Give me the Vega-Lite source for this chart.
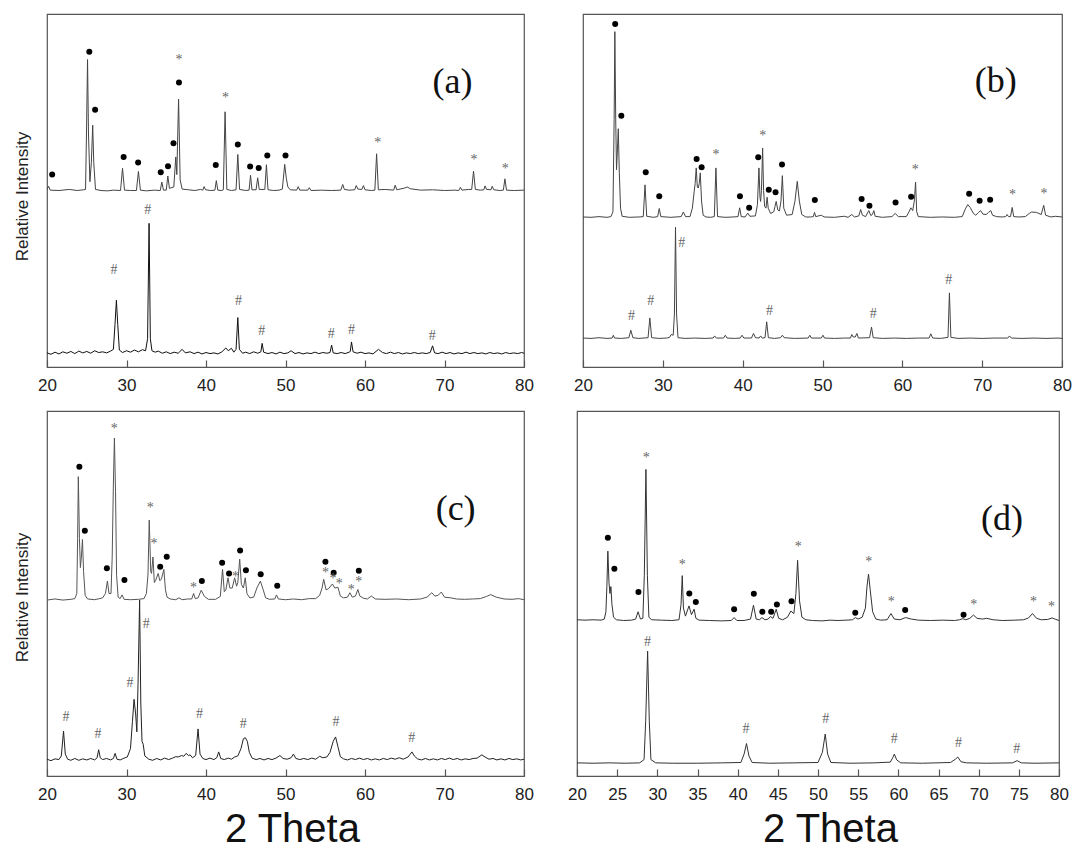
{
 "$schema": "https://vega.github.io/schema/vega-lite/v6.json",
 "background": "white",
 "padding": {"left": 12, "top": 13, "right": 5, "bottom": 0},
 "config": {
  "view": {"stroke": "#555", "strokeWidth": 1.2},
  "axis": {"grid": false, "domain": false, "labelFont": "Liberation Sans", "titleFont": "Liberation Sans", "titleFontWeight": "normal", "labelColor": "#222", "titleColor": "#111"}
 },
 "datasets": {
  "A": [
   {"s":"au","x":20.0,"y":50.2},{"s":"au","x":20.2,"y":51.2},{"s":"au","x":20.4,"y":50.1},{"s":"au","x":21.5,"y":50.0},{"s":"au","x":22.8,"y":50.3},{"s":"au","x":23.8,"y":50.0},{"s":"au","x":24.6,"y":50.2},{"s":"au","x":24.85,"y":50.3},{"s":"au","x":24.98,"y":68},{"s":"au","x":25.1,"y":87.1},{"s":"au","x":25.22,"y":66},{"s":"au","x":25.4,"y":52.5},{"s":"au","x":25.58,"y":58},{"s":"au","x":25.75,"y":68.5},{"s":"au","x":25.88,"y":58},{"s":"au","x":26.1,"y":50.3},{"s":"au","x":26.8,"y":50.0},{"s":"au","x":27.6,"y":49.9},{"s":"au","x":28.4,"y":50.1},{"s":"au","x":29.25,"y":50.0},{"s":"au","x":29.5,"y":56.3},{"s":"au","x":29.75,"y":50.1},{"s":"au","x":30.5,"y":50.0},{"s":"au","x":31.25,"y":50.0},{"s":"au","x":31.5,"y":55.4},{"s":"au","x":31.75,"y":50.1},{"s":"au","x":32.5,"y":49.9},{"s":"au","x":33.5,"y":50.1},{"s":"au","x":34.25,"y":50.0},{"s":"au","x":34.44,"y":52.4},{"s":"au","x":34.65,"y":50.1},{"s":"au","x":35.0,"y":50.1},{"s":"au","x":35.2,"y":54.1},{"s":"au","x":35.4,"y":50.6},{"s":"au","x":35.95,"y":51.0},{"s":"au","x":36.2,"y":59.5},{"s":"au","x":36.33,"y":54.5},{"s":"au","x":36.55,"y":75.9},{"s":"au","x":36.75,"y":53},{"s":"au","x":37.0,"y":50.4},{"s":"au","x":37.8,"y":50.2},{"s":"au","x":38.6,"y":50.0},{"s":"au","x":39.3,"y":50.3},{"s":"au","x":39.6,"y":50.1},{"s":"au","x":39.76,"y":51.1},{"s":"au","x":39.95,"y":50.2},{"s":"au","x":40.6,"y":50.0},{"s":"au","x":41.12,"y":50.1},{"s":"au","x":41.3,"y":52.8},{"s":"au","x":41.48,"y":50.1},{"s":"au","x":42.0,"y":50.0},{"s":"au","x":42.18,"y":50.2},{"s":"au","x":42.4,"y":72.3},{"s":"au","x":42.62,"y":50.3},{"s":"au","x":43.2,"y":50.0},{"s":"au","x":43.78,"y":50.2},{"s":"au","x":44.0,"y":60.2},{"s":"au","x":44.22,"y":50.3},{"s":"au","x":45.0,"y":50.0},{"s":"au","x":45.42,"y":50.1},{"s":"au","x":45.6,"y":54.3},{"s":"au","x":45.78,"y":50.2},{"s":"au","x":46.3,"y":50.2},{"s":"au","x":46.5,"y":53.6},{"s":"au","x":46.7,"y":50.3},{"s":"au","x":47.4,"y":50.3},{"s":"au","x":47.6,"y":57.3},{"s":"au","x":47.8,"y":50.2},{"s":"au","x":48.5,"y":50.0},{"s":"au","x":49.2,"y":50.1},{"s":"au","x":49.6,"y":50.4},{"s":"au","x":49.9,"y":57.4},{"s":"au","x":50.1,"y":53.5},{"s":"au","x":50.3,"y":51.0},{"s":"au","x":50.6,"y":50.2},{"s":"au","x":51.4,"y":50.1},{"s":"au","x":51.6,"y":51.1},{"s":"au","x":51.8,"y":50.1},{"s":"au","x":52.8,"y":50.1},{"s":"au","x":53.0,"y":50.8},{"s":"au","x":53.2,"y":50.0},{"s":"au","x":54.5,"y":50.1},{"s":"au","x":55.8,"y":50.0},{"s":"au","x":56.95,"y":50.1},{"s":"au","x":57.2,"y":51.7},{"s":"au","x":57.4,"y":50.3},{"s":"au","x":58.0,"y":50.1},{"s":"au","x":58.7,"y":50.2},{"s":"au","x":58.9,"y":51.4},{"s":"au","x":59.1,"y":50.4},{"s":"au","x":59.6,"y":50.3},{"s":"au","x":59.8,"y":51.4},{"s":"au","x":60.0,"y":50.2},{"s":"au","x":60.8,"y":50.0},{"s":"au","x":61.24,"y":50.1},{"s":"au","x":61.46,"y":60.4},{"s":"au","x":61.68,"y":50.2},{"s":"au","x":62.5,"y":50.3},{"s":"au","x":63.6,"y":50.1},{"s":"au","x":63.8,"y":51.5},{"s":"au","x":64.0,"y":50.2},{"s":"au","x":65.0,"y":50.7},{"s":"au","x":65.3,"y":51.0},{"s":"au","x":65.7,"y":50.5},{"s":"au","x":67.0,"y":50.1},{"s":"au","x":68.5,"y":50.2},{"s":"au","x":70.0,"y":50.0},{"s":"au","x":71.3,"y":50.1},{"s":"au","x":71.8,"y":50.0},{"s":"au","x":72.0,"y":50.9},{"s":"au","x":72.2,"y":50.1},{"s":"au","x":73.0,"y":50.3},{"s":"au","x":73.42,"y":50.3},{"s":"au","x":73.65,"y":55.5},{"s":"au","x":73.88,"y":50.3},{"s":"au","x":74.5,"y":50.1},{"s":"au","x":74.95,"y":50.2},{"s":"au","x":75.1,"y":51.3},{"s":"au","x":75.3,"y":50.3},{"s":"au","x":75.85,"y":50.2},{"s":"au","x":76.0,"y":51.2},{"s":"au","x":76.2,"y":50.2},{"s":"au","x":77.0,"y":50.0},{"s":"au","x":77.4,"y":50.1},{"s":"au","x":77.6,"y":53.3},{"s":"au","x":77.8,"y":50.1},{"s":"au","x":78.8,"y":50.0},{"s":"au","x":80.0,"y":50.1},
   {"s":"al","x":20.0,"y":4.0},{"s":"al","x":20.5,"y":3.6},{"s":"al","x":21.0,"y":4.2},{"s":"al","x":21.5,"y":3.7},{"s":"al","x":22.0,"y":4.3},{"s":"al","x":22.5,"y":3.9},{"s":"al","x":23.0,"y":4.4},{"s":"al","x":23.5,"y":3.8},{"s":"al","x":24.0,"y":4.5},{"s":"al","x":24.5,"y":4.0},{"s":"al","x":25.0,"y":4.4},{"s":"al","x":25.5,"y":3.9},{"s":"al","x":26.0,"y":4.6},{"s":"al","x":26.5,"y":4.1},{"s":"al","x":27.0,"y":4.3},{"s":"al","x":27.5,"y":4.0},{"s":"al","x":28.0,"y":4.5},{"s":"al","x":28.35,"y":5.0},{"s":"al","x":28.55,"y":12},{"s":"al","x":28.73,"y":18.9},{"s":"al","x":28.9,"y":12},{"s":"al","x":29.1,"y":4.8},{"s":"al","x":29.5,"y":4.1},{"s":"al","x":30.0,"y":4.6},{"s":"al","x":30.5,"y":4.2},{"s":"al","x":31.0,"y":4.8},{"s":"al","x":31.5,"y":4.3},{"s":"al","x":32.0,"y":4.9},{"s":"al","x":32.4,"y":4.6},{"s":"al","x":32.65,"y":8},{"s":"al","x":32.84,"y":40.7},{"s":"al","x":33.0,"y":8},{"s":"al","x":33.2,"y":4.6},{"s":"al","x":33.6,"y":4.2},{"s":"al","x":34.0,"y":4.5},{"s":"al","x":34.5,"y":3.9},{"s":"al","x":35.0,"y":4.3},{"s":"al","x":35.5,"y":3.8},{"s":"al","x":36.0,"y":4.2},{"s":"al","x":36.5,"y":3.9},{"s":"al","x":37.0,"y":5.0},{"s":"al","x":37.4,"y":4.0},{"s":"al","x":38.0,"y":4.3},{"s":"al","x":38.5,"y":3.8},{"s":"al","x":39.0,"y":4.2},{"s":"al","x":39.5,"y":3.7},{"s":"al","x":40.0,"y":4.1},{"s":"al","x":40.5,"y":3.8},{"s":"al","x":41.0,"y":4.0},{"s":"al","x":41.5,"y":3.7},{"s":"al","x":42.0,"y":4.3},{"s":"al","x":42.5,"y":5.4},{"s":"al","x":42.8,"y":4.6},{"s":"al","x":43.2,"y":5.3},{"s":"al","x":43.5,"y":4.2},{"s":"al","x":43.78,"y":5.0},{"s":"al","x":44.0,"y":14.0},{"s":"al","x":44.2,"y":5.0},{"s":"al","x":44.6,"y":3.9},{"s":"al","x":45.0,"y":4.2},{"s":"al","x":45.5,"y":3.8},{"s":"al","x":46.0,"y":4.3},{"s":"al","x":46.5,"y":3.9},{"s":"al","x":46.9,"y":4.3},{"s":"al","x":47.06,"y":6.7},{"s":"al","x":47.25,"y":4.2},{"s":"al","x":47.8,"y":3.8},{"s":"al","x":48.3,"y":4.1},{"s":"al","x":48.8,"y":3.7},{"s":"al","x":49.3,"y":4.2},{"s":"al","x":49.8,"y":3.8},{"s":"al","x":50.3,"y":4.0},{"s":"al","x":50.7,"y":4.6},{"s":"al","x":51.2,"y":3.8},{"s":"al","x":51.7,"y":4.1},{"s":"al","x":52.2,"y":3.7},{"s":"al","x":52.7,"y":4.0},{"s":"al","x":53.2,"y":3.8},{"s":"al","x":53.7,"y":4.2},{"s":"al","x":54.2,"y":3.8},{"s":"al","x":54.7,"y":4.1},{"s":"al","x":55.2,"y":3.9},{"s":"al","x":55.6,"y":4.1},{"s":"al","x":55.8,"y":6.2},{"s":"al","x":56.0,"y":4.0},{"s":"al","x":56.5,"y":3.8},{"s":"al","x":57.0,"y":4.1},{"s":"al","x":57.5,"y":3.8},{"s":"al","x":58.0,"y":4.2},{"s":"al","x":58.15,"y":4.4},{"s":"al","x":58.3,"y":7.1},{"s":"al","x":58.5,"y":4.3},{"s":"al","x":59.0,"y":3.9},{"s":"al","x":59.5,"y":4.2},{"s":"al","x":60.0,"y":3.8},{"s":"al","x":60.5,"y":4.0},{"s":"al","x":61.0,"y":3.7},{"s":"al","x":61.7,"y":5.0},{"s":"al","x":62.2,"y":4.1},{"s":"al","x":62.7,"y":3.8},{"s":"al","x":63.2,"y":4.2},{"s":"al","x":63.7,"y":3.8},{"s":"al","x":64.2,"y":4.1},{"s":"al","x":64.7,"y":3.7},{"s":"al","x":65.2,"y":4.0},{"s":"al","x":65.7,"y":3.8},{"s":"al","x":66.2,"y":4.1},{"s":"al","x":66.7,"y":3.8},{"s":"al","x":67.2,"y":4.0},{"s":"al","x":67.7,"y":3.8},{"s":"al","x":68.2,"y":4.1},{"s":"al","x":68.5,"y":6.0},{"s":"al","x":68.75,"y":4.0},{"s":"al","x":69.2,"y":3.8},{"s":"al","x":69.7,"y":4.2},{"s":"al","x":70.2,"y":3.8},{"s":"al","x":70.7,"y":4.1},{"s":"al","x":71.2,"y":3.7},{"s":"al","x":71.7,"y":4.0},{"s":"al","x":72.2,"y":3.8},{"s":"al","x":72.7,"y":4.2},{"s":"al","x":73.2,"y":3.8},{"s":"al","x":73.7,"y":4.1},{"s":"al","x":74.2,"y":3.8},{"s":"al","x":74.7,"y":4.0},{"s":"al","x":75.2,"y":3.7},{"s":"al","x":75.7,"y":4.1},{"s":"al","x":76.2,"y":3.8},{"s":"al","x":76.7,"y":4.0},{"s":"al","x":77.2,"y":3.7},{"s":"al","x":77.7,"y":4.1},{"s":"al","x":78.2,"y":3.8},{"s":"al","x":78.7,"y":4.0},{"s":"al","x":79.2,"y":3.8},{"s":"al","x":79.7,"y":4.1},{"s":"al","x":80.0,"y":3.9}
  ],
  "Am": [
   {"m":"o","x":20.65,"y":54.5},{"m":"o","x":25.32,"y":89.3},{"m":"o","x":26.05,"y":72.9},{"m":"o","x":29.64,"y":59.5},{"m":"o","x":31.46,"y":57.9},{"m":"o","x":34.31,"y":55.2},{"m":"o","x":35.22,"y":56.9},{"m":"o","x":35.91,"y":63.4},{"m":"o","x":36.6,"y":80.6},{"m":"*","x":36.6,"y":86.9},{"m":"o","x":41.23,"y":57.2},{"m":"*","x":42.44,"y":76.2},{"m":"o","x":44.0,"y":63.0},{"m":"o","x":45.55,"y":56.8},{"m":"o","x":46.63,"y":56.4},{"m":"o","x":47.71,"y":59.9},{"m":"o","x":50.0,"y":59.9},{"m":"*","x":61.59,"y":63.5},{"m":"*","x":73.7,"y":58.5},{"m":"*","x":77.63,"y":56.0},
   {"m":"#","x":28.43,"y":27.5},{"m":"#","x":32.67,"y":44.5},{"m":"#","x":44.08,"y":18.75},{"m":"#","x":47.02,"y":10.2},{"m":"#","x":55.75,"y":9.3},{"m":"#","x":58.3,"y":10.6},{"m":"#","x":68.47,"y":8.8}
  ],
  "B": [
   {"s":"bu","x":20.0,"y":42.5},{"s":"bu","x":21.0,"y":42.4},{"s":"bu","x":22.0,"y":42.6},{"s":"bu","x":23.0,"y":42.4},{"s":"bu","x":23.5,"y":42.6},{"s":"bu","x":23.75,"y":44.0},{"s":"bu","x":23.9,"y":70},{"s":"bu","x":23.99,"y":95.0},{"s":"bu","x":24.1,"y":70},{"s":"bu","x":24.2,"y":55.9},{"s":"bu","x":24.32,"y":62},{"s":"bu","x":24.42,"y":67.5},{"s":"bu","x":24.55,"y":55},{"s":"bu","x":24.7,"y":45},{"s":"bu","x":24.9,"y":42.7},{"s":"bu","x":25.8,"y":42.4},{"s":"bu","x":27.0,"y":42.5},{"s":"bu","x":27.55,"y":42.6},{"s":"bu","x":27.77,"y":51.6},{"s":"bu","x":27.98,"y":42.7},{"s":"bu","x":28.8,"y":42.4},{"s":"bu","x":29.35,"y":42.6},{"s":"bu","x":29.55,"y":44.9},{"s":"bu","x":29.75,"y":42.6},{"s":"bu","x":31.0,"y":42.4},{"s":"bu","x":32.3,"y":42.6},{"s":"bu","x":32.57,"y":43.9},{"s":"bu","x":32.85,"y":42.6},{"s":"bu","x":33.4,"y":42.6},{"s":"bu","x":33.7,"y":45},{"s":"bu","x":33.93,"y":49.8},{"s":"bu","x":34.05,"y":52},{"s":"bu","x":34.18,"y":56.4},{"s":"bu","x":34.32,"y":51},{"s":"bu","x":34.44,"y":50.7},{"s":"bu","x":34.56,"y":52},{"s":"bu","x":34.69,"y":55.0},{"s":"bu","x":34.85,"y":47},{"s":"bu","x":35.05,"y":43},{"s":"bu","x":35.4,"y":42.5},{"s":"bu","x":36.0,"y":42.4},{"s":"bu","x":36.45,"y":42.6},{"s":"bu","x":36.65,"y":56.4},{"s":"bu","x":36.85,"y":42.6},{"s":"bu","x":37.8,"y":42.4},{"s":"bu","x":38.8,"y":42.5},{"s":"bu","x":39.42,"y":42.6},{"s":"bu","x":39.62,"y":45.1},{"s":"bu","x":39.82,"y":42.6},{"s":"bu","x":40.3,"y":42.5},{"s":"bu","x":40.64,"y":43.6},{"s":"bu","x":40.9,"y":42.7},{"s":"bu","x":41.6,"y":42.8},{"s":"bu","x":41.85,"y":46},{"s":"bu","x":42.04,"y":56.4},{"s":"bu","x":42.17,"y":48},{"s":"bu","x":42.25,"y":46.9},{"s":"bu","x":42.35,"y":50},{"s":"bu","x":42.5,"y":62.0},{"s":"bu","x":42.62,"y":50},{"s":"bu","x":42.75,"y":45.5},{"s":"bu","x":42.92,"y":45},{"s":"bu","x":43.06,"y":48.1},{"s":"bu","x":43.2,"y":45},{"s":"bu","x":43.5,"y":43.5},{"s":"bu","x":43.9,"y":44},{"s":"bu","x":44.05,"y":45.5},{"s":"bu","x":44.2,"y":46.9},{"s":"bu","x":44.4,"y":44.5},{"s":"bu","x":44.6,"y":44.2},{"s":"bu","x":44.8,"y":47},{"s":"bu","x":44.97,"y":54.2},{"s":"bu","x":45.15,"y":45},{"s":"bu","x":45.5,"y":43.0},{"s":"bu","x":46.2,"y":43.2},{"s":"bu","x":46.55,"y":47},{"s":"bu","x":46.84,"y":52.6},{"s":"bu","x":47.1,"y":47},{"s":"bu","x":47.4,"y":43.2},{"s":"bu","x":47.9,"y":42.5},{"s":"bu","x":48.5,"y":42.5},{"s":"bu","x":48.85,"y":42.6},{"s":"bu","x":49.0,"y":43.8},{"s":"bu","x":49.15,"y":42.6},{"s":"bu","x":49.85,"y":43.0},{"s":"bu","x":50.2,"y":42.5},{"s":"bu","x":51.5,"y":42.4},{"s":"bu","x":52.74,"y":42.7},{"s":"bu","x":53.2,"y":42.4},{"s":"bu","x":53.67,"y":43.2},{"s":"bu","x":54.0,"y":42.5},{"s":"bu","x":54.55,"y":42.8},{"s":"bu","x":54.78,"y":44.6},{"s":"bu","x":55.0,"y":43.0},{"s":"bu","x":55.4,"y":42.6},{"s":"bu","x":55.8,"y":44.3},{"s":"bu","x":56.05,"y":42.9},{"s":"bu","x":56.25,"y":43.2},{"s":"bu","x":56.43,"y":44.3},{"s":"bu","x":56.6,"y":42.7},{"s":"bu","x":57.5,"y":42.4},{"s":"bu","x":58.7,"y":42.6},{"s":"bu","x":59.1,"y":43.5},{"s":"bu","x":59.5,"y":42.6},{"s":"bu","x":60.5,"y":42.6},{"s":"bu","x":60.85,"y":44},{"s":"bu","x":61.06,"y":45.1},{"s":"bu","x":61.3,"y":44.3},{"s":"bu","x":61.5,"y":47},{"s":"bu","x":61.66,"y":52.4},{"s":"bu","x":61.8,"y":44},{"s":"bu","x":62.0,"y":42.6},{"s":"bu","x":63.5,"y":42.4},{"s":"bu","x":65.0,"y":42.5},{"s":"bu","x":66.5,"y":42.4},{"s":"bu","x":67.5,"y":42.6},{"s":"bu","x":67.9,"y":44.8},{"s":"bu","x":68.2,"y":46.0},{"s":"bu","x":68.5,"y":45.2},{"s":"bu","x":68.9,"y":43.5},{"s":"bu","x":69.2,"y":43},{"s":"bu","x":69.55,"y":43.8},{"s":"bu","x":69.8,"y":44.3},{"s":"bu","x":70.1,"y":43.3},{"s":"bu","x":70.5,"y":43.2},{"s":"bu","x":70.8,"y":43.8},{"s":"bu","x":71.08,"y":44.3},{"s":"bu","x":71.3,"y":43.0},{"s":"bu","x":71.8,"y":42.6},{"s":"bu","x":72.5,"y":42.5},{"s":"bu","x":72.95,"y":42.6},{"s":"bu","x":73.12,"y":43.2},{"s":"bu","x":73.3,"y":42.6},{"s":"bu","x":73.55,"y":42.6},{"s":"bu","x":73.76,"y":45.2},{"s":"bu","x":73.95,"y":42.6},{"s":"bu","x":74.6,"y":42.5},{"s":"bu","x":75.4,"y":42.6},{"s":"bu","x":75.9,"y":43.5},{"s":"bu","x":76.18,"y":43.9},{"s":"bu","x":76.8,"y":43.8},{"s":"bu","x":77.4,"y":43.2},{"s":"bu","x":77.71,"y":45.8},{"s":"bu","x":77.95,"y":43.0},{"s":"bu","x":78.6,"y":42.5},{"s":"bu","x":79.15,"y":42.7},{"s":"bu","x":80.0,"y":42.5},
   {"s":"bl","x":20.0,"y":8.2},{"s":"bl","x":21.0,"y":8.1},{"s":"bl","x":22.0,"y":8.3},{"s":"bl","x":23.0,"y":8.1},{"s":"bl","x":23.65,"y":8.2},{"s":"bl","x":23.8,"y":9.0},{"s":"bl","x":23.95,"y":8.2},{"s":"bl","x":24.8,"y":8.1},{"s":"bl","x":25.75,"y":8.3},{"s":"bl","x":25.99,"y":10.4},{"s":"bl","x":26.25,"y":8.3},{"s":"bl","x":27.0,"y":8.1},{"s":"bl","x":28.15,"y":8.3},{"s":"bl","x":28.37,"y":13.9},{"s":"bl","x":28.6,"y":8.3},{"s":"bl","x":29.5,"y":8.1},{"s":"bl","x":30.5,"y":8.2},{"s":"bl","x":30.85,"y":8.4},{"s":"bl","x":31.04,"y":9.2},{"s":"bl","x":31.3,"y":9.0},{"s":"bl","x":31.45,"y":15},{"s":"bl","x":31.59,"y":39.6},{"s":"bl","x":31.72,"y":15},{"s":"bl","x":31.9,"y":8.3},{"s":"bl","x":32.8,"y":8.1},{"s":"bl","x":34.0,"y":8.2},{"s":"bl","x":35.3,"y":8.1},{"s":"bl","x":36.3,"y":8.2},{"s":"bl","x":36.48,"y":8.8},{"s":"bl","x":36.7,"y":8.2},{"s":"bl","x":37.6,"y":8.2},{"s":"bl","x":37.83,"y":9.0},{"s":"bl","x":38.05,"y":8.2},{"s":"bl","x":39.0,"y":8.1},{"s":"bl","x":39.7,"y":8.2},{"s":"bl","x":39.92,"y":9.0},{"s":"bl","x":40.15,"y":8.2},{"s":"bl","x":41.1,"y":8.2},{"s":"bl","x":41.36,"y":9.5},{"s":"bl","x":41.6,"y":8.3},{"s":"bl","x":42.05,"y":8.2},{"s":"bl","x":42.25,"y":8.8},{"s":"bl","x":42.45,"y":8.2},{"s":"bl","x":42.8,"y":8.3},{"s":"bl","x":43.01,"y":12.8},{"s":"bl","x":43.22,"y":8.3},{"s":"bl","x":44.0,"y":8.1},{"s":"bl","x":44.75,"y":8.3},{"s":"bl","x":44.97,"y":9.0},{"s":"bl","x":45.2,"y":8.3},{"s":"bl","x":46.5,"y":8.1},{"s":"bl","x":48.2,"y":8.2},{"s":"bl","x":48.41,"y":9.0},{"s":"bl","x":48.6,"y":8.2},{"s":"bl","x":49.85,"y":8.2},{"s":"bl","x":50.06,"y":9.0},{"s":"bl","x":50.25,"y":8.2},{"s":"bl","x":51.5,"y":8.1},{"s":"bl","x":52.8,"y":8.2},{"s":"bl","x":53.5,"y":8.2},{"s":"bl","x":53.67,"y":9.2},{"s":"bl","x":53.85,"y":8.5},{"s":"bl","x":54.1,"y":8.5},{"s":"bl","x":54.31,"y":9.5},{"s":"bl","x":54.5,"y":8.2},{"s":"bl","x":55.9,"y":8.3},{"s":"bl","x":56.14,"y":11.3},{"s":"bl","x":56.35,"y":8.3},{"s":"bl","x":57.5,"y":8.1},{"s":"bl","x":59.0,"y":8.2},{"s":"bl","x":60.5,"y":8.1},{"s":"bl","x":62.0,"y":8.2},{"s":"bl","x":63.35,"y":8.2},{"s":"bl","x":63.57,"y":9.4},{"s":"bl","x":63.8,"y":8.2},{"s":"bl","x":64.8,"y":8.1},{"s":"bl","x":65.72,"y":8.4},{"s":"bl","x":65.9,"y":21.0},{"s":"bl","x":66.08,"y":8.4},{"s":"bl","x":67.0,"y":8.1},{"s":"bl","x":68.5,"y":8.2},{"s":"bl","x":70.0,"y":8.1},{"s":"bl","x":71.5,"y":8.2},{"s":"bl","x":73.2,"y":8.2},{"s":"bl","x":73.42,"y":8.8},{"s":"bl","x":73.65,"y":8.2},{"s":"bl","x":75.0,"y":8.1},{"s":"bl","x":76.5,"y":8.2},{"s":"bl","x":78.0,"y":8.1},{"s":"bl","x":79.5,"y":8.2},{"s":"bl","x":80.0,"y":8.1}
  ],
  "Bm": [
   {"m":"o","x":24.03,"y":97.2},{"m":"o","x":24.8,"y":71.2},{"m":"o","x":27.86,"y":55.2},{"m":"o","x":29.55,"y":48.4},{"m":"o","x":34.23,"y":58.9},{"m":"o","x":34.86,"y":56.6},{"m":"*","x":36.65,"y":60.1},{"m":"o","x":39.66,"y":48.4},{"m":"o","x":40.81,"y":45.1},{"m":"o","x":41.95,"y":59.4},{"m":"*","x":42.5,"y":65.3},{"m":"o","x":43.27,"y":50.2},{"m":"o","x":44.12,"y":49.5},{"m":"o","x":44.93,"y":57.4},{"m":"o","x":49.04,"y":47.3},{"m":"o","x":54.9,"y":47.6},{"m":"o","x":55.88,"y":45.7},{"m":"o","x":59.15,"y":46.6},{"m":"o","x":61.1,"y":48.2},{"m":"*","x":61.61,"y":55.7},{"m":"o","x":68.37,"y":49.1},{"m":"o","x":69.68,"y":47.1},{"m":"o","x":71.0,"y":47.4},{"m":"*","x":73.8,"y":48.8},{"m":"*","x":77.75,"y":49.0},
   {"m":"#","x":26.07,"y":14.4},{"m":"#","x":28.49,"y":18.7},{"m":"#","x":32.36,"y":35.2},{"m":"#","x":43.36,"y":16.0},{"m":"#","x":56.35,"y":14.9},{"m":"#","x":65.82,"y":24.7}
  ],
  "C": [
   {"s":"cu","x":20.0,"y":48.2},{"s":"cu","x":21.0,"y":48.5},{"s":"cu","x":22.0,"y":48.2},{"s":"cu","x":23.0,"y":48.4},{"s":"cu","x":23.5,"y":48.6},{"s":"cu","x":23.75,"y":50},{"s":"cu","x":23.85,"y":65},{"s":"cu","x":23.94,"y":82.0},{"s":"cu","x":24.08,"y":65},{"s":"cu","x":24.2,"y":57.1},{"s":"cu","x":24.32,"y":60},{"s":"cu","x":24.46,"y":64.8},{"s":"cu","x":24.6,"y":56},{"s":"cu","x":24.8,"y":49.5},{"s":"cu","x":25.1,"y":48.5},{"s":"cu","x":26.0,"y":48.3},{"s":"cu","x":27.0,"y":48.8},{"s":"cu","x":27.35,"y":50},{"s":"cu","x":27.6,"y":53.4},{"s":"cu","x":27.8,"y":50},{"s":"cu","x":28.05,"y":50},{"s":"cu","x":28.2,"y":60},{"s":"cu","x":28.35,"y":80},{"s":"cu","x":28.48,"y":92.6},{"s":"cu","x":28.62,"y":78},{"s":"cu","x":28.75,"y":55},{"s":"cu","x":28.95,"y":49},{"s":"cu","x":29.2,"y":48.6},{"s":"cu","x":29.44,"y":49.6},{"s":"cu","x":29.7,"y":48.4},{"s":"cu","x":30.5,"y":48.3},{"s":"cu","x":31.5,"y":48.4},{"s":"cu","x":32.2,"y":48.6},{"s":"cu","x":32.5,"y":50},{"s":"cu","x":32.7,"y":55},{"s":"cu","x":32.86,"y":70.1},{"s":"cu","x":33.05,"y":56},{"s":"cu","x":33.15,"y":55.5},{"s":"cu","x":33.33,"y":60.0},{"s":"cu","x":33.5,"y":53},{"s":"cu","x":33.65,"y":53.5},{"s":"cu","x":33.98,"y":55.5},{"s":"cu","x":34.2,"y":53.5},{"s":"cu","x":34.4,"y":54},{"s":"cu","x":34.7,"y":56.6},{"s":"cu","x":34.9,"y":51},{"s":"cu","x":35.1,"y":49},{"s":"cu","x":35.5,"y":48.5},{"s":"cu","x":36.2,"y":48.3},{"s":"cu","x":36.6,"y":48.8},{"s":"cu","x":37.0,"y":48.3},{"s":"cu","x":37.7,"y":48.5},{"s":"cu","x":38.2,"y":48.5},{"s":"cu","x":38.44,"y":50.0},{"s":"cu","x":38.65,"y":48.6},{"s":"cu","x":39.0,"y":48.8},{"s":"cu","x":39.4,"y":50.9},{"s":"cu","x":39.8,"y":49.2},{"s":"cu","x":40.3,"y":48.4},{"s":"cu","x":41.2,"y":48.4},{"s":"cu","x":41.8,"y":49.2},{"s":"cu","x":42.08,"y":56.6},{"s":"cu","x":42.3,"y":50.5},{"s":"cu","x":42.5,"y":51},{"s":"cu","x":42.77,"y":54.3},{"s":"cu","x":43.0,"y":51.5},{"s":"cu","x":43.3,"y":51.5},{"s":"cu","x":43.6,"y":54.3},{"s":"cu","x":43.85,"y":52},{"s":"cu","x":44.0,"y":53},{"s":"cu","x":44.24,"y":59.4},{"s":"cu","x":44.45,"y":52.5},{"s":"cu","x":44.7,"y":51.5},{"s":"cu","x":44.94,"y":54.3},{"s":"cu","x":45.15,"y":50},{"s":"cu","x":45.5,"y":48.8},{"s":"cu","x":46.0,"y":49.0},{"s":"cu","x":46.4,"y":51.5},{"s":"cu","x":46.84,"y":53.4},{"s":"cu","x":47.2,"y":51},{"s":"cu","x":47.5,"y":48.8},{"s":"cu","x":48.0,"y":48.4},{"s":"cu","x":48.65,"y":48.5},{"s":"cu","x":48.87,"y":49.6},{"s":"cu","x":49.1,"y":48.5},{"s":"cu","x":50.0,"y":48.3},{"s":"cu","x":51.0,"y":48.5},{"s":"cu","x":52.0,"y":48.3},{"s":"cu","x":53.0,"y":48.6},{"s":"cu","x":53.8,"y":48.6},{"s":"cu","x":54.3,"y":49.5},{"s":"cu","x":54.6,"y":51.5},{"s":"cu","x":54.8,"y":53.9},{"s":"cu","x":55.1,"y":51},{"s":"cu","x":55.4,"y":51.3},{"s":"cu","x":55.9,"y":52.6},{"s":"cu","x":56.2,"y":51.5},{"s":"cu","x":56.6,"y":51.7},{"s":"cu","x":56.9,"y":49.3},{"s":"cu","x":57.3,"y":48.8},{"s":"cu","x":57.8,"y":49.0},{"s":"cu","x":58.1,"y":50.2},{"s":"cu","x":58.4,"y":49.0},{"s":"cu","x":58.8,"y":49.3},{"s":"cu","x":59.1,"y":51.1},{"s":"cu","x":59.35,"y":49.3},{"s":"cu","x":59.8,"y":48.7},{"s":"cu","x":60.3,"y":48.5},{"s":"cu","x":60.8,"y":49.3},{"s":"cu","x":61.3,"y":48.5},{"s":"cu","x":62.5,"y":48.4},{"s":"cu","x":64.0,"y":48.5},{"s":"cu","x":65.5,"y":48.3},{"s":"cu","x":67.0,"y":48.5},{"s":"cu","x":67.8,"y":49.0},{"s":"cu","x":68.4,"y":50.2},{"s":"cu","x":68.8,"y":49.3},{"s":"cu","x":69.2,"y":49.5},{"s":"cu","x":69.6,"y":50.4},{"s":"cu","x":70.0,"y":49},{"s":"cu","x":70.8,"y":48.8},{"s":"cu","x":71.5,"y":48.5},{"s":"cu","x":72.5,"y":48.4},{"s":"cu","x":73.5,"y":48.5},{"s":"cu","x":74.5,"y":48.6},{"s":"cu","x":75.3,"y":49.2},{"s":"cu","x":75.8,"y":49.7},{"s":"cu","x":76.5,"y":49.0},{"s":"cu","x":77.5,"y":48.5},{"s":"cu","x":78.5,"y":48.4},{"s":"cu","x":79.3,"y":48.6},{"s":"cu","x":80.0,"y":48.3},
   {"s":"cl","x":20.0,"y":4.6},{"s":"cl","x":20.5,"y":4.2},{"s":"cl","x":21.0,"y":4.7},{"s":"cl","x":21.5,"y":4.5},{"s":"cl","x":21.8,"y":5.5},{"s":"cl","x":22.08,"y":12.3},{"s":"cl","x":22.3,"y":6},{"s":"cl","x":22.6,"y":4.6},{"s":"cl","x":23.0,"y":4.3},{"s":"cl","x":23.5,"y":4.8},{"s":"cl","x":24.0,"y":4.3},{"s":"cl","x":24.5,"y":4.7},{"s":"cl","x":25.0,"y":4.4},{"s":"cl","x":25.5,"y":4.8},{"s":"cl","x":26.0,"y":4.4},{"s":"cl","x":26.3,"y":5.0},{"s":"cl","x":26.5,"y":7.2},{"s":"cl","x":26.7,"y":5.0},{"s":"cl","x":27.0,"y":4.5},{"s":"cl","x":27.5,"y":4.8},{"s":"cl","x":28.0,"y":4.4},{"s":"cl","x":28.35,"y":4.8},{"s":"cl","x":28.57,"y":6.2},{"s":"cl","x":28.8,"y":4.6},{"s":"cl","x":29.2,"y":4.4},{"s":"cl","x":29.7,"y":4.9},{"s":"cl","x":30.1,"y":5.2},{"s":"cl","x":30.5,"y":7.5},{"s":"cl","x":30.75,"y":15},{"s":"cl","x":30.95,"y":21.0},{"s":"cl","x":31.15,"y":17},{"s":"cl","x":31.3,"y":12.1},{"s":"cl","x":31.45,"y":25},{"s":"cl","x":31.65,"y":48.2},{"s":"cl","x":31.8,"y":20},{"s":"cl","x":31.95,"y":9.5},{"s":"cl","x":32.1,"y":8.7},{"s":"cl","x":32.3,"y":5.5},{"s":"cl","x":32.8,"y":4.6},{"s":"cl","x":33.3,"y":4.3},{"s":"cl","x":33.8,"y":4.8},{"s":"cl","x":34.3,"y":4.4},{"s":"cl","x":34.8,"y":4.9},{"s":"cl","x":35.3,"y":4.5},{"s":"cl","x":35.8,"y":4.9},{"s":"cl","x":36.2,"y":5.3},{"s":"cl","x":36.5,"y":5.2},{"s":"cl","x":36.9,"y":5.6},{"s":"cl","x":37.2,"y":5.4},{"s":"cl","x":37.5,"y":6.2},{"s":"cl","x":37.8,"y":5.6},{"s":"cl","x":38.0,"y":5.8},{"s":"cl","x":38.3,"y":5.0},{"s":"cl","x":38.7,"y":5.6},{"s":"cl","x":39.0,"y":12.9},{"s":"cl","x":39.25,"y":6},{"s":"cl","x":39.6,"y":4.8},{"s":"cl","x":40.0,"y":4.5},{"s":"cl","x":40.5,"y":4.9},{"s":"cl","x":41.0,"y":4.5},{"s":"cl","x":41.35,"y":5.0},{"s":"cl","x":41.6,"y":6.6},{"s":"cl","x":41.85,"y":4.8},{"s":"cl","x":42.3,"y":4.5},{"s":"cl","x":42.8,"y":4.9},{"s":"cl","x":43.2,"y":4.6},{"s":"cl","x":43.6,"y":5.2},{"s":"cl","x":44.0,"y":5.5},{"s":"cl","x":44.4,"y":7.5},{"s":"cl","x":44.7,"y":10.2},{"s":"cl","x":44.94,"y":10.5},{"s":"cl","x":45.2,"y":9.5},{"s":"cl","x":45.45,"y":6.5},{"s":"cl","x":45.8,"y":4.9},{"s":"cl","x":46.3,"y":4.5},{"s":"cl","x":46.8,"y":4.8},{"s":"cl","x":47.3,"y":4.4},{"s":"cl","x":47.8,"y":4.8},{"s":"cl","x":48.3,"y":4.5},{"s":"cl","x":48.8,"y":4.9},{"s":"cl","x":49.3,"y":5.6},{"s":"cl","x":49.7,"y":4.8},{"s":"cl","x":50.2,"y":4.6},{"s":"cl","x":50.7,"y":5.0},{"s":"cl","x":51.0,"y":6.0},{"s":"cl","x":51.3,"y":4.8},{"s":"cl","x":51.8,"y":4.5},{"s":"cl","x":52.3,"y":4.8},{"s":"cl","x":52.8,"y":4.5},{"s":"cl","x":53.3,"y":4.9},{"s":"cl","x":53.8,"y":4.6},{"s":"cl","x":54.3,"y":5.4},{"s":"cl","x":54.7,"y":5.0},{"s":"cl","x":55.2,"y":5.2},{"s":"cl","x":55.6,"y":6.5},{"s":"cl","x":56.0,"y":9.5},{"s":"cl","x":56.3,"y":10.7},{"s":"cl","x":56.6,"y":8},{"s":"cl","x":56.9,"y":5.3},{"s":"cl","x":57.3,"y":4.7},{"s":"cl","x":57.8,"y":4.4},{"s":"cl","x":58.3,"y":4.8},{"s":"cl","x":58.8,"y":4.5},{"s":"cl","x":59.3,"y":4.9},{"s":"cl","x":59.8,"y":4.5},{"s":"cl","x":60.3,"y":4.8},{"s":"cl","x":60.8,"y":4.4},{"s":"cl","x":61.3,"y":4.7},{"s":"cl","x":61.8,"y":4.4},{"s":"cl","x":62.3,"y":4.8},{"s":"cl","x":62.8,"y":4.5},{"s":"cl","x":63.3,"y":4.9},{"s":"cl","x":63.8,"y":4.6},{"s":"cl","x":64.3,"y":5.0},{"s":"cl","x":64.8,"y":4.6},{"s":"cl","x":65.4,"y":5.2},{"s":"cl","x":65.7,"y":6.0},{"s":"cl","x":65.9,"y":6.6},{"s":"cl","x":66.2,"y":5.5},{"s":"cl","x":66.6,"y":4.7},{"s":"cl","x":67.1,"y":4.4},{"s":"cl","x":67.6,"y":4.8},{"s":"cl","x":68.1,"y":4.4},{"s":"cl","x":68.6,"y":4.7},{"s":"cl","x":69.1,"y":4.4},{"s":"cl","x":69.6,"y":4.8},{"s":"cl","x":70.1,"y":4.5},{"s":"cl","x":70.6,"y":4.9},{"s":"cl","x":71.1,"y":4.5},{"s":"cl","x":71.6,"y":4.8},{"s":"cl","x":72.1,"y":4.4},{"s":"cl","x":72.6,"y":4.7},{"s":"cl","x":73.1,"y":4.5},{"s":"cl","x":73.6,"y":4.8},{"s":"cl","x":74.1,"y":4.9},{"s":"cl","x":74.7,"y":5.8},{"s":"cl","x":75.1,"y":5.2},{"s":"cl","x":75.6,"y":4.6},{"s":"cl","x":76.1,"y":4.8},{"s":"cl","x":76.6,"y":4.4},{"s":"cl","x":77.1,"y":4.7},{"s":"cl","x":77.6,"y":4.4},{"s":"cl","x":78.1,"y":4.8},{"s":"cl","x":78.6,"y":4.5},{"s":"cl","x":79.1,"y":4.7},{"s":"cl","x":79.6,"y":4.4},{"s":"cl","x":80.0,"y":4.6}
  ],
  "Cm": [
   {"m":"o","x":24.07,"y":84.7},{"m":"o","x":24.76,"y":67.2},{"m":"o","x":27.53,"y":56.9},{"m":"*","x":28.45,"y":95.0},{"m":"o","x":29.74,"y":53.7},{"m":"*","x":32.99,"y":73.3},{"m":"*","x":33.46,"y":63.5},{"m":"o","x":34.24,"y":57.3},{"m":"o","x":35.06,"y":60.1},{"m":"*","x":38.44,"y":51.6},{"m":"o","x":39.48,"y":53.4},{"m":"o","x":42.03,"y":58.4},{"m":"o","x":42.9,"y":55.5},{"m":"*","x":43.72,"y":54.6},{"m":"o","x":44.29,"y":61.8},{"m":"o","x":45.02,"y":56.4},{"m":"o","x":46.88,"y":55.3},{"m":"o","x":48.96,"y":52.1},{"m":"o","x":55.02,"y":58.7},{"m":"*","x":55.02,"y":55.7},{"m":"o","x":56.06,"y":55.7},{"m":"*","x":55.97,"y":53.9},{"m":"*","x":56.75,"y":52.5},{"m":"*","x":58.27,"y":51.0},{"m":"o","x":59.22,"y":56.2},{"m":"*","x":59.22,"y":53.2},
   {"m":"#","x":22.38,"y":16.2},{"m":"#","x":26.41,"y":11.4},{"m":"#","x":30.43,"y":25.4},{"m":"#","x":32.47,"y":41.6},{"m":"#","x":39.18,"y":17.1},{"m":"#","x":44.68,"y":14.3},{"m":"#","x":56.36,"y":14.8},{"m":"#","x":65.89,"y":10.3}
  ],
  "D": [
   {"s":"du","x":20.0,"y":42.8},{"s":"du","x":21.0,"y":42.7},{"s":"du","x":22.0,"y":42.8},{"s":"du","x":23.0,"y":42.7},{"s":"du","x":23.4,"y":43.0},{"s":"du","x":23.6,"y":45},{"s":"du","x":23.72,"y":52},{"s":"du","x":23.84,"y":61.6},{"s":"du","x":23.98,"y":53},{"s":"du","x":24.1,"y":50},{"s":"du","x":24.22,"y":51.9},{"s":"du","x":24.35,"y":47},{"s":"du","x":24.55,"y":43.5},{"s":"du","x":24.9,"y":42.8},{"s":"du","x":25.8,"y":42.6},{"s":"du","x":26.8,"y":42.7},{"s":"du","x":27.3,"y":43.0},{"s":"du","x":27.6,"y":45.0},{"s":"du","x":27.9,"y":43.0},{"s":"du","x":28.2,"y":43.2},{"s":"du","x":28.38,"y":55},{"s":"du","x":28.58,"y":84.0},{"s":"du","x":28.76,"y":55},{"s":"du","x":28.95,"y":43.5},{"s":"du","x":29.3,"y":42.8},{"s":"du","x":30.5,"y":42.7},{"s":"du","x":31.8,"y":42.6},{"s":"du","x":32.7,"y":42.8},{"s":"du","x":32.95,"y":47},{"s":"du","x":33.1,"y":54.9},{"s":"du","x":33.25,"y":46},{"s":"du","x":33.5,"y":43.8},{"s":"du","x":33.94,"y":46.6},{"s":"du","x":34.25,"y":44.2},{"s":"du","x":34.58,"y":45.7},{"s":"du","x":34.8,"y":43.2},{"s":"du","x":35.2,"y":42.7},{"s":"du","x":36.5,"y":42.6},{"s":"du","x":38.0,"y":42.5},{"s":"du","x":39.2,"y":42.6},{"s":"du","x":39.56,"y":43.4},{"s":"du","x":39.9,"y":42.6},{"s":"du","x":40.8,"y":42.6},{"s":"du","x":41.6,"y":43.0},{"s":"du","x":41.97,"y":46.8},{"s":"du","x":42.3,"y":43.0},{"s":"du","x":42.7,"y":42.8},{"s":"du","x":43.03,"y":43.4},{"s":"du","x":43.4,"y":42.8},{"s":"du","x":43.8,"y":43.0},{"s":"du","x":44.08,"y":43.7},{"s":"du","x":44.4,"y":43.2},{"s":"du","x":44.8,"y":45.7},{"s":"du","x":45.1,"y":43.2},{"s":"du","x":45.6,"y":42.8},{"s":"du","x":46.2,"y":43.5},{"s":"du","x":46.62,"y":45.2},{"s":"du","x":47.0,"y":44.5},{"s":"du","x":47.25,"y":50},{"s":"du","x":47.46,"y":59.1},{"s":"du","x":47.7,"y":48},{"s":"du","x":48.0,"y":43.5},{"s":"du","x":48.5,"y":42.8},{"s":"du","x":49.3,"y":42.6},{"s":"du","x":50.5,"y":42.5},{"s":"du","x":51.5,"y":42.7},{"s":"du","x":52.5,"y":42.6},{"s":"du","x":53.5,"y":42.7},{"s":"du","x":54.3,"y":42.8},{"s":"du","x":54.64,"y":43.4},{"s":"du","x":55.0,"y":43},{"s":"du","x":55.5,"y":43.5},{"s":"du","x":55.9,"y":46},{"s":"du","x":56.1,"y":52},{"s":"du","x":56.29,"y":55.3},{"s":"du","x":56.5,"y":51},{"s":"du","x":56.8,"y":45},{"s":"du","x":57.2,"y":43},{"s":"du","x":57.8,"y":42.7},{"s":"du","x":58.6,"y":42.8},{"s":"du","x":59.08,"y":44.5},{"s":"du","x":59.5,"y":43.0},{"s":"du","x":60.2,"y":42.8},{"s":"du","x":60.9,"y":43.4},{"s":"du","x":61.6,"y":43.0},{"s":"du","x":62.5,"y":42.7},{"s":"du","x":64.0,"y":42.6},{"s":"du","x":65.5,"y":42.7},{"s":"du","x":67.0,"y":42.6},{"s":"du","x":67.6,"y":42.8},{"s":"du","x":68.04,"y":43.1},{"s":"du","x":68.4,"y":42.8},{"s":"du","x":68.9,"y":43.2},{"s":"du","x":69.35,"y":44.1},{"s":"du","x":69.8,"y":43.2},{"s":"du","x":70.5,"y":43.0},{"s":"du","x":71.0,"y":43.2},{"s":"du","x":71.8,"y":42.8},{"s":"du","x":73.0,"y":42.6},{"s":"du","x":74.5,"y":42.7},{"s":"du","x":75.6,"y":42.8},{"s":"du","x":76.2,"y":43.3},{"s":"du","x":76.7,"y":44.5},{"s":"du","x":77.2,"y":43.2},{"s":"du","x":77.8,"y":42.8},{"s":"du","x":78.6,"y":42.9},{"s":"du","x":79.15,"y":43.3},{"s":"du","x":79.6,"y":42.9},{"s":"du","x":80.0,"y":42.6},
   {"s":"dl","x":20.0,"y":3.6},{"s":"dl","x":22.0,"y":3.5},{"s":"dl","x":24.0,"y":3.6},{"s":"dl","x":26.0,"y":3.5},{"s":"dl","x":27.8,"y":3.6},{"s":"dl","x":28.35,"y":4.5},{"s":"dl","x":28.55,"y":15},{"s":"dl","x":28.79,"y":34.2},{"s":"dl","x":29.0,"y":15},{"s":"dl","x":29.2,"y":4.5},{"s":"dl","x":29.8,"y":3.6},{"s":"dl","x":32.0,"y":3.5},{"s":"dl","x":35.0,"y":3.5},{"s":"dl","x":38.0,"y":3.6},{"s":"dl","x":40.4,"y":3.7},{"s":"dl","x":40.8,"y":6},{"s":"dl","x":41.1,"y":8.9},{"s":"dl","x":41.4,"y":5.5},{"s":"dl","x":41.8,"y":3.7},{"s":"dl","x":44.0,"y":3.5},{"s":"dl","x":47.0,"y":3.6},{"s":"dl","x":50.0,"y":3.7},{"s":"dl","x":50.55,"y":6.5},{"s":"dl","x":50.9,"y":11.5},{"s":"dl","x":51.2,"y":6},{"s":"dl","x":51.6,"y":3.7},{"s":"dl","x":54.0,"y":3.5},{"s":"dl","x":57.0,"y":3.6},{"s":"dl","x":59.0,"y":3.8},{"s":"dl","x":59.3,"y":5},{"s":"dl","x":59.5,"y":6.0},{"s":"dl","x":59.8,"y":4.4},{"s":"dl","x":60.3,"y":3.6},{"s":"dl","x":63.0,"y":3.5},{"s":"dl","x":66.5,"y":3.7},{"s":"dl","x":67.1,"y":4.6},{"s":"dl","x":67.4,"y":5.2},{"s":"dl","x":67.8,"y":3.9},{"s":"dl","x":68.5,"y":3.6},{"s":"dl","x":71.0,"y":3.5},{"s":"dl","x":74.2,"y":3.6},{"s":"dl","x":74.8,"y":4.2},{"s":"dl","x":75.3,"y":3.6},{"s":"dl","x":77.0,"y":3.5},{"s":"dl","x":80.0,"y":3.6}
  ],
  "Dm": [
   {"m":"o","x":23.84,"y":65.3},{"m":"o","x":24.65,"y":56.8},{"m":"o","x":27.65,"y":50.4},{"m":"*","x":28.62,"y":87.0},{"m":"*","x":33.1,"y":57.9},{"m":"o","x":33.98,"y":50.0},{"m":"o","x":34.79,"y":47.7},{"m":"o","x":39.56,"y":45.7},{"m":"o","x":42.01,"y":49.9},{"m":"o","x":43.07,"y":45.0},{"m":"o","x":44.17,"y":45.0},{"m":"o","x":44.88,"y":47.0},{"m":"o","x":46.7,"y":47.9},{"m":"*","x":47.55,"y":62.8},{"m":"o","x":54.64,"y":44.7},{"m":"*","x":56.33,"y":58.6},{"m":"*","x":59.12,"y":47.7},{"m":"o","x":60.85,"y":45.5},{"m":"o","x":68.12,"y":44.2},{"m":"*","x":69.39,"y":46.8},{"m":"*","x":76.82,"y":47.7},{"m":"*","x":79.06,"y":46.2},
   {"m":"#","x":28.79,"y":36.7},{"m":"#","x":41.04,"y":13.0},{"m":"#","x":50.97,"y":15.5},{"m":"#","x":59.5,"y":10.2},{"m":"#","x":67.49,"y":9.1},{"m":"#","x":74.75,"y":7.5}
  ]
 },
 "spacing": 16,
 "vconcat": [
  {"bounds": "flush", "spacing": 59, "hconcat": [
   {"width": 477, "height": 353, "layer": [
    {"data": {"name": "A"}, "mark": {"type": "line", "strokeWidth": 1, "clip": true},
     "encoding": {
      "x": {"field": "x", "type": "quantitative", "scale": {"domain": [20, 80], "nice": false, "zero": false},
        "axis": {"values": [20,22.5,25,27.5,30,32.5,35,37.5,40,42.5,45,47.5,50,52.5,55,57.5,60,62.5,65,67.5,70,72.5,75,77.5,80], "labelExpr": "datum.value % 5 == 0 ? datum.label : ''", "tickSize": {"condition": {"test": "datum.value % 5 == 0", "value": -7}, "value": -3.5}, "tickColor": "#555", "tickWidth": 1.2, "labelFontSize": 17, "labelPadding": 17, "labelFlush": false, "labelOverlap": false, "labelBound": false, "title": null}},
      "y": {"field": "y", "type": "quantitative", "scale": {"domain": [0, 100], "nice": false, "zero": false},
        "axis": {"title": "Relative Intensity", "labels": false, "ticks": false, "domain": false, "titleFontSize": 17, "titlePadding": 16, "titleColor": "#222", "titleY": 182}},
      "color": {"field": "s", "type": "nominal", "scale": {"domain": ["au","al","bu","bl","cu","cl","du","dl"], "range": ["#444","#111","#444","#444","#555","#222","#333","#333"]}, "legend": null}
     }},
    {"data": {"name": "Am"}, "transform": [{"filter": "datum.m == 'o'"}], "mark": {"type": "point", "filled": true, "size": 36, "color": "#000", "opacity": 1},
     "encoding": {"x": {"field": "x", "type": "quantitative"}, "y": {"field": "y", "type": "quantitative"}}},
    {"data": {"name": "Am"}, "transform": [{"filter": "datum.m != 'o'"}], "mark": {"type": "text", "font": "Liberation Serif", "fontSize": 14, "color": "#666", "baseline": "middle"},
     "encoding": {"x": {"field": "x", "type": "quantitative"}, "y": {"field": "y", "type": "quantitative"}, "text": {"field": "m"}}},
    {"data": {"values": [{"t": "(a)", "x": 71.0, "y": 80.8}]}, "mark": {"type": "text", "font": "Liberation Serif", "fontSize": 36, "color": "#111", "baseline": "middle"},
     "encoding": {"x": {"field": "x", "type": "quantitative"}, "y": {"field": "y", "type": "quantitative"}, "text": {"field": "t"}}}
   ]},
   {"width": 479, "height": 353, "layer": [
    {"data": {"name": "B"}, "mark": {"type": "line", "strokeWidth": 1, "clip": true},
     "encoding": {
      "x": {"field": "x", "type": "quantitative", "scale": {"domain": [20, 80], "nice": false, "zero": false},
        "axis": {"values": [20,22.5,25,27.5,30,32.5,35,37.5,40,42.5,45,47.5,50,52.5,55,57.5,60,62.5,65,67.5,70,72.5,75,77.5,80], "labelExpr": "datum.value % 5 == 0 ? datum.label : ''", "tickSize": {"condition": {"test": "datum.value % 5 == 0", "value": -7}, "value": -3.5}, "tickColor": "#555", "tickWidth": 1.2, "labelFontSize": 17, "labelPadding": 17, "labelFlush": false, "labelOverlap": false, "labelBound": false, "title": null}},
      "y": {"field": "y", "type": "quantitative", "scale": {"domain": [0, 100], "nice": false, "zero": false}, "axis": null},
      "color": {"field": "s", "type": "nominal", "scale": {"domain": ["au","al","bu","bl","cu","cl","du","dl"], "range": ["#444","#111","#444","#444","#555","#222","#333","#333"]}, "legend": null}
     }},
    {"data": {"name": "Bm"}, "transform": [{"filter": "datum.m == 'o'"}], "mark": {"type": "point", "filled": true, "size": 36, "color": "#000", "opacity": 1},
     "encoding": {"x": {"field": "x", "type": "quantitative"}, "y": {"field": "y", "type": "quantitative"}}},
    {"data": {"name": "Bm"}, "transform": [{"filter": "datum.m != 'o'"}], "mark": {"type": "text", "font": "Liberation Serif", "fontSize": 14, "color": "#666", "baseline": "middle"},
     "encoding": {"x": {"field": "x", "type": "quantitative"}, "y": {"field": "y", "type": "quantitative"}, "text": {"field": "m"}}},
    {"data": {"values": [{"t": "(b)", "x": 71.7, "y": 80.9}]}, "mark": {"type": "text", "font": "Liberation Serif", "fontSize": 36, "color": "#111", "baseline": "middle"},
     "encoding": {"x": {"field": "x", "type": "quantitative"}, "y": {"field": "y", "type": "quantitative"}, "text": {"field": "t"}}}
   ]}
  ]},
  {"bounds": "flush", "spacing": 53, "hconcat": [
   {"width": 477, "height": 365, "layer": [
    {"data": {"name": "C"}, "mark": {"type": "line", "strokeWidth": 1, "clip": true},
     "encoding": {
      "x": {"field": "x", "type": "quantitative", "scale": {"domain": [20, 80], "nice": false, "zero": false},
        "axis": {"values": [20,22.5,25,27.5,30,32.5,35,37.5,40,42.5,45,47.5,50,52.5,55,57.5,60,62.5,65,67.5,70,72.5,75,77.5,80], "labelExpr": "datum.value % 5 == 0 ? datum.label : ''", "tickSize": {"condition": {"test": "datum.value % 5 == 0", "value": -7}, "value": -3.5}, "tickColor": "#555", "tickWidth": 1.2, "labelFontSize": 17, "labelPadding": 17, "labelFlush": false, "labelOverlap": false, "labelBound": false, "title": "2 Theta", "titleFontSize": 40, "titlePadding": 7, "titleX": 245}},
      "y": {"field": "y", "type": "quantitative", "scale": {"domain": [0, 100], "nice": false, "zero": false},
        "axis": {"title": "Relative Intensity", "labels": false, "ticks": false, "domain": false, "titleFontSize": 17, "titlePadding": 16, "titleColor": "#222", "titleY": 186}},
      "color": {"field": "s", "type": "nominal", "scale": {"domain": ["au","al","bu","bl","cu","cl","du","dl"], "range": ["#444","#111","#444","#444","#555","#222","#333","#333"]}, "legend": null}
     }},
    {"data": {"name": "Cm"}, "transform": [{"filter": "datum.m == 'o'"}], "mark": {"type": "point", "filled": true, "size": 36, "color": "#000", "opacity": 1},
     "encoding": {"x": {"field": "x", "type": "quantitative"}, "y": {"field": "y", "type": "quantitative"}}},
    {"data": {"name": "Cm"}, "transform": [{"filter": "datum.m != 'o'"}], "mark": {"type": "text", "font": "Liberation Serif", "fontSize": 14, "color": "#666", "baseline": "middle"},
     "encoding": {"x": {"field": "x", "type": "quantitative"}, "y": {"field": "y", "type": "quantitative"}, "text": {"field": "m"}}},
    {"data": {"values": [{"t": "(c)", "x": 71.4, "y": 73.1}]}, "mark": {"type": "text", "font": "Liberation Serif", "fontSize": 36, "color": "#111", "baseline": "middle"},
     "encoding": {"x": {"field": "x", "type": "quantitative"}, "y": {"field": "y", "type": "quantitative"}, "text": {"field": "t"}}}
   ]},
   {"width": 482, "height": 365, "layer": [
    {"data": {"name": "D"}, "mark": {"type": "line", "strokeWidth": 1, "clip": true},
     "encoding": {
      "x": {"field": "x", "type": "quantitative", "scale": {"domain": [20, 80], "nice": false, "zero": false},
        "axis": {"values": [20,22.5,25,27.5,30,32.5,35,37.5,40,42.5,45,47.5,50,52.5,55,57.5,60,62.5,65,67.5,70,72.5,75,77.5,80], "labelExpr": "datum.value % 5 == 0 ? datum.label : ''", "tickSize": {"condition": {"test": "datum.value % 5 == 0", "value": -7}, "value": -3.5}, "tickColor": "#555", "tickWidth": 1.2, "labelFontSize": 17, "labelPadding": 17, "labelFlush": false, "labelOverlap": false, "labelBound": false, "title": "2 Theta", "titleFontSize": 40, "titlePadding": 7, "titleX": 253}},
      "y": {"field": "y", "type": "quantitative", "scale": {"domain": [0, 100], "nice": false, "zero": false}, "axis": null},
      "color": {"field": "s", "type": "nominal", "scale": {"domain": ["au","al","bu","bl","cu","cl","du","dl"], "range": ["#444","#111","#444","#444","#555","#222","#333","#333"]}, "legend": null}
     }},
    {"data": {"name": "Dm"}, "transform": [{"filter": "datum.m == 'o'"}], "mark": {"type": "point", "filled": true, "size": 36, "color": "#000", "opacity": 1},
     "encoding": {"x": {"field": "x", "type": "quantitative"}, "y": {"field": "y", "type": "quantitative"}}},
    {"data": {"name": "Dm"}, "transform": [{"filter": "datum.m != 'o'"}], "mark": {"type": "text", "font": "Liberation Serif", "fontSize": 14, "color": "#666", "baseline": "middle"},
     "encoding": {"x": {"field": "x", "type": "quantitative"}, "y": {"field": "y", "type": "quantitative"}, "text": {"field": "m"}}},
    {"data": {"values": [{"t": "(d)", "x": 72.9, "y": 70.3}]}, "mark": {"type": "text", "font": "Liberation Serif", "fontSize": 36, "color": "#111", "baseline": "middle"},
     "encoding": {"x": {"field": "x", "type": "quantitative"}, "y": {"field": "y", "type": "quantitative"}, "text": {"field": "t"}}}
   ]}
  ]}
 ]
}
